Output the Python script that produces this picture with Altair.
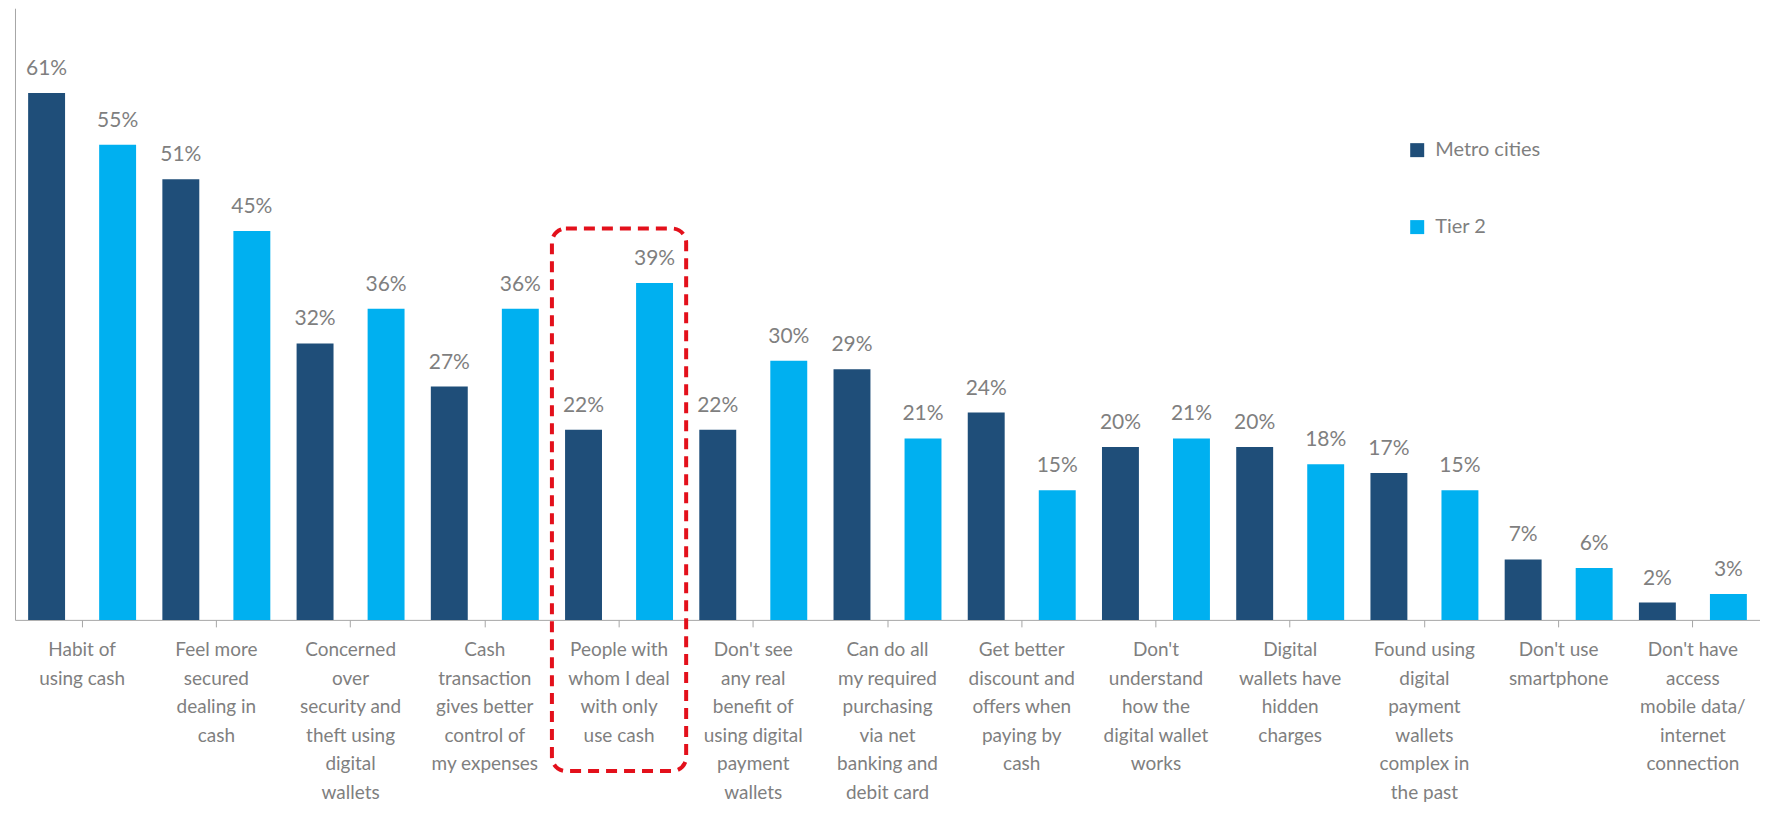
import altair as alt
import pandas as pd

# ---- data -------------------------------------------------------------
category_lines = [
    ["Habit of", "using cash"],
    ["Feel more", "secured", "dealing in", "cash"],
    ["Concerned", "over", "security and", "theft using", "digital", "wallets"],
    ["Cash", "transaction", "gives better", "control of", "my expenses"],
    ["People with", "whom I deal", "with only", "use cash"],
    ["Don't see", "any real", "benefit of", "using digital", "payment", "wallets"],
    ["Can do all", "my required", "purchasing", "via net", "banking and", "debit card"],
    ["Get better", "discount and", "offers when", "paying by", "cash"],
    ["Don't", "understand", "how the", "digital wallet", "works"],
    ["Digital", "wallets have", "hidden", "charges"],
    ["Found using", "digital", "payment", "wallets", "complex in", "the past"],
    ["Don't use", "smartphone"],
    ["Don't have", "access", "mobile data/", "internet", "connection"],
]
metro = [61, 51, 32, 27, 22, 22, 29, 24, 20, 20, 17, 7, 2]
tier2 = [55, 45, 36, 36, 39, 30, 21, 15, 21, 18, 15, 6, 3]
series = ["Metro cities", "Tier 2"]
colors = ["#1F4E79", "#00B0F0"]
highlight_index = 4  # "People with whom I deal with only use cash"

# ---- tables -------------------------------------------------------------
keys = ["|".join(lines) for lines in category_lines]
rows = []
for k, m, t in zip(keys, metro, tier2):
    rows.append({"category": k, "series": series[0], "value": m})
    rows.append({"category": k, "series": series[1], "value": t})
df = pd.DataFrame(rows)

hl = pd.DataFrame([{
    "category": keys[highlight_index],
    "top": max(metro[highlight_index], tier2[highlight_index]) + 6.3,
    "bottom": -17.5,
}])

gray = "#7F7F7F"
axis_gray = "#A6A6A6"

x_enc = alt.X(
    "category:N",
    sort=keys,
    scale=alt.Scale(paddingInner=0, paddingOuter=0),
    axis=alt.Axis(
        title=None,
        labelExpr="split(datum.label, '|')",
        labelAngle=0,
        labelFont="Lato",
        labelFontSize=19,
        labelColor=gray,
        labelLineHeight=28.5,
        labelBaseline="top",
        labelPadding=14,
        labelLimit=0,
        labelOverlap=False,
        labelFlush=False,
        domainColor=axis_gray,
        domainWidth=1,
        tickColor=axis_gray,
        tickSize=7,
        ticks=True,
        grid=False,
    ),
)
xo_enc = alt.XOffset(
    "series:N",
    sort=series,
    scale=alt.Scale(paddingInner=0.48, paddingOuter=0.185),
)
y_scale = alt.Scale(domain=[0, 70.8], nice=False, zero=True)
y_axis = alt.Axis(
    title=None, labels=False, ticks=False, grid=False,
    domainColor=axis_gray, domainWidth=1,
)

bars = alt.Chart(df).mark_bar().encode(
    x=x_enc,
    xOffset=xo_enc,
    y=alt.Y("value:Q", scale=y_scale, axis=y_axis),
    color=alt.Color(
        "series:N",
        sort=series,
        scale=alt.Scale(domain=series, range=colors),
        legend=alt.Legend(
            title=None,
            orient="none",
            legendX=1393,
            legendY=132,
            direction="vertical",
            symbolType="square",
            symbolSize=196,
            symbolStrokeWidth=0,
            labelFont="Lato",
            labelFontSize=20,
            labelColor=gray,
            labelOffset=8,
            rowPadding=57,
            padding=0,
        ),
    ),
)

labels = alt.Chart(df).transform_calculate(
    label="datum.value + '%'"
).mark_text(
    font="Lato", fontSize=21, color=gray, baseline="middle", dy=-24
).encode(
    x=alt.X("category:N", sort=keys),
    xOffset=alt.XOffset("series:N", sort=series),
    y=alt.Y("value:Q"),
    text="label:N",
)

box = alt.Chart(hl).mark_rect(
    fillOpacity=0,
    stroke="#E3101B",
    strokeWidth=4,
    strokeDash=[11, 7],
    cornerRadius=14,
).encode(
    x=alt.X("category:N", sort=keys),
    y=alt.Y("top:Q"),
    y2="bottom:Q",
)

chart = alt.layer(bars, labels, box).properties(
    width=1746,
    height=612,
    padding={"left": 7, "top": 0, "right": 0, "bottom": 186},
    autosize=alt.AutoSizeParams(type="none"),
    background="white",
).configure_view(stroke=None)

chart.save("out.html", embed_options={"renderer": "svg", "actions": False})
